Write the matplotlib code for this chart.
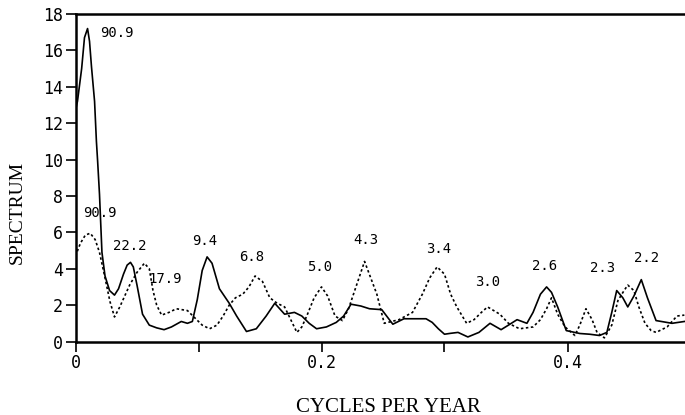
import matplotlib
matplotlib.use("Agg")
import matplotlib.pyplot as plt

# solid curve (spectrum 1)
solid_freq = [0, 0.0016, 0.005, 0.0073, 0.0098, 0.0114, 0.013, 0.0155, 0.017, 0.018,
              0.0195, 0.0205, 0.0215, 0.024, 0.0277, 0.0317, 0.035, 0.039, 0.042, 0.0447,
              0.047, 0.050, 0.0545, 0.060, 0.066, 0.072, 0.078, 0.086, 0.091, 0.095,
              0.099, 0.103, 0.107, 0.111, 0.117, 0.125, 0.131, 0.139, 0.147, 0.155,
              0.162, 0.170, 0.178, 0.184, 0.190, 0.196, 0.204, 0.212, 0.218, 0.224,
              0.232, 0.239, 0.249, 0.258, 0.267, 0.276, 0.285, 0.290, 0.295, 0.300,
              0.305, 0.311, 0.319, 0.328, 0.337, 0.346, 0.352, 0.359, 0.367, 0.372,
              0.378, 0.383, 0.387, 0.392, 0.399, 0.410, 0.418, 0.426, 0.432, 0.436,
              0.440, 0.445, 0.449, 0.454, 0.460, 0.465, 0.472, 0.485, 0.495]
solid_spec = [12.7, 13.2, 15.0, 16.7, 17.2, 16.5, 15.1, 13.2, 11.0, 9.9,
              8.1, 6.5, 4.9, 3.6, 2.8, 2.55, 2.9, 3.7, 4.2, 4.35,
              4.1, 3.1, 1.5, 0.9, 0.75, 0.65, 0.8, 1.1, 1.0, 1.1,
              2.3, 3.9, 4.65, 4.3, 2.9, 2.1, 1.4, 0.55, 0.7, 1.4,
              2.1, 1.5, 1.6, 1.4, 1.0, 0.7, 0.8, 1.05, 1.4, 2.05,
              1.95, 1.8, 1.75, 0.95, 1.25, 1.25, 1.25, 1.05, 0.7, 0.4,
              0.45, 0.5, 0.25, 0.5, 1.0, 0.65, 0.9, 1.2, 1.0, 1.6,
              2.6, 3.0, 2.7, 1.9, 0.6, 0.44, 0.4, 0.33, 0.5, 1.6,
              2.8, 2.4, 1.9, 2.5, 3.4, 2.4, 1.15, 1.0, 1.1]

# dotted curve (spectrum 2)
dot_freq = [0, 0.004, 0.008, 0.012, 0.016, 0.0195, 0.024, 0.028, 0.0317, 0.036,
            0.040, 0.044, 0.050, 0.056, 0.060, 0.063, 0.066, 0.070, 0.076, 0.082,
            0.091, 0.097, 0.103, 0.109, 0.115, 0.120, 0.125, 0.130, 0.136, 0.141,
            0.146, 0.152, 0.158, 0.164, 0.170, 0.175, 0.180, 0.184, 0.188, 0.194,
            0.200, 0.205, 0.211, 0.217, 0.222, 0.227, 0.231, 0.235, 0.240, 0.245,
            0.251, 0.257, 0.263, 0.274, 0.282, 0.288, 0.294, 0.300, 0.305, 0.310,
            0.318, 0.324, 0.330, 0.335, 0.345, 0.352, 0.361, 0.372, 0.378, 0.383,
            0.387, 0.392, 0.398, 0.406, 0.410, 0.415, 0.420, 0.424, 0.430, 0.436,
            0.441, 0.446, 0.449, 0.454, 0.458, 0.463, 0.468, 0.472, 0.481, 0.489,
            0.495]
dot_spec = [4.7, 5.4, 5.85, 5.95, 5.6, 4.9, 3.5, 2.2, 1.35, 1.9,
            2.5, 3.1, 3.8, 4.3, 4.0, 2.8, 2.0, 1.45, 1.6, 1.8,
            1.7, 1.3, 0.9, 0.7, 0.9, 1.4, 2.0, 2.4, 2.6, 3.0,
            3.6, 3.3, 2.4, 2.1, 1.9, 1.2, 0.5, 0.8, 1.4, 2.4,
            3.0, 2.5, 1.4, 1.15, 1.8, 2.8, 3.6, 4.4, 3.5, 2.6,
            1.0, 1.1, 1.2, 1.6, 2.6, 3.5, 4.1, 3.7, 2.6, 1.9,
            1.0, 1.2, 1.6, 1.9, 1.5, 1.0, 0.7, 0.8, 1.2, 1.8,
            2.4, 1.5, 0.8, 0.33, 0.9, 1.8, 1.2, 0.5, 0.2, 0.9,
            2.25, 2.8, 3.1, 2.8, 1.9, 1.0, 0.6, 0.5, 0.8, 1.4,
            1.45]

# period labels (years) at the peaks
peak_labels = ["90.9", "90.9", "22.2", "17.9", "9.4", "6.8", "5.0", "4.3",
               "3.4", "3.0", "2.6", "2.3", "2.2"]
peak_x = [0.0337, 0.0199, 0.0443, 0.0728, 0.105, 0.1435, 0.1988, 0.2362,
          0.2955, 0.3354, 0.3817, 0.4289, 0.4646]
peak_y = [16.95, 7.06, 5.25, 3.43, 5.52, 4.64, 4.09, 5.58,
          5.08, 3.27, 4.15, 4.04, 4.59]

x_ticks = [0, 0.1, 0.2, 0.3, 0.4]
x_tick_labels = ["0", "", "0.2", "", "0.4"]
y_ticks = list(range(0, 19, 2))

mono = "DejaVu Sans Mono"
serif = "Liberation Serif"

fig = plt.figure(figsize=(6.85, 4.15), dpi=100)
ax = fig.add_axes([75.5 / 685, 73.5 / 415, 609.5 / 685, 327.5 / 415])

ax.plot(solid_freq, solid_spec, color="black", lw=1.2)
ax.plot(dot_freq, dot_spec, color="black", lw=1.2, linestyle=(0, (1.5, 1.5)))

for lab, xx, yy in zip(peak_labels, peak_x, peak_y):
    ax.text(xx, yy, lab, ha="center", va="center", fontsize=10, family=mono)

ax.set_xlim(0, 609.5 / 1230)
ax.set_ylim(0, 18)
ax.set_xticks(x_ticks)
ax.set_xticklabels(x_tick_labels)
ax.set_yticks(y_ticks)
ax.set_yticklabels([str(v) for v in y_ticks])
for lbl in ax.get_xticklabels() + ax.get_yticklabels():
    lbl.set_family(mono)
    lbl.set_fontsize(12)
ax.tick_params(axis="both", direction="out", length=7, width=1.2, pad=2)

for side in ["left", "bottom", "top"]:
    ax.spines[side].set_linewidth(1.8)
ax.spines["right"].set_visible(False)

fig.text(17 / 685, 1 - 212 / 415, "SPECTRUM", rotation=90, ha="center",
         va="center", family=serif, fontsize=14)
fig.text(388 / 685, 1 - 407 / 415, "CYCLES PER YEAR", ha="center",
         va="center", family=serif, fontsize=15)

fig.savefig("out.png", dpi=100)
